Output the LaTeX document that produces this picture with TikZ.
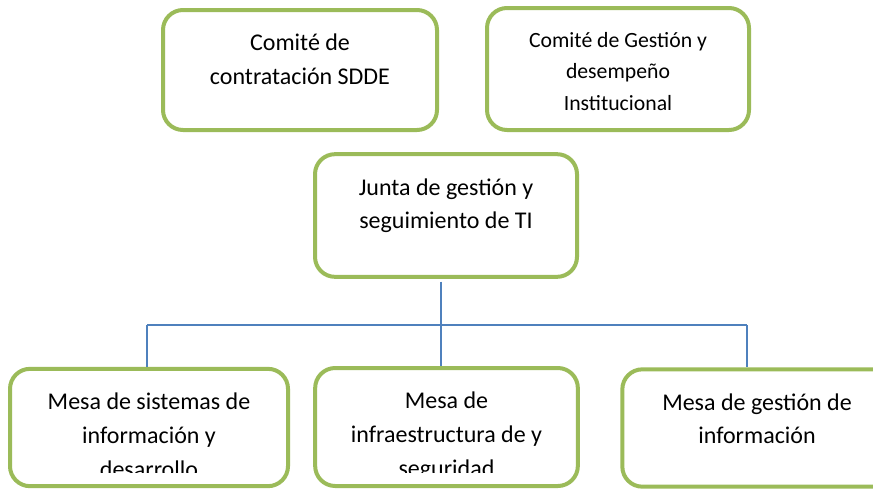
\documentclass[tikz,border=0pt]{standalone}
\usepackage{fontspec}
\setmainfont{Carlito}
\usetikzlibrary{positioning}
\definecolor{boxgreen}{HTML}{9BBB59}
\definecolor{lineblue}{HTML}{4F81BD}
\tikzset{
  VertexStyle/.style={draw=boxgreen, line width=3pt, rounded corners=15pt, rectangle, fill=white},
  TextStyle/.style={align=center, inner sep=0pt, font=\fontsize{18}{25}\selectfont},
  EdgeStyle/.style={draw=lineblue, line width=1.5pt}
}
\begin{document}
\begin{tikzpicture}[x=0.75pt, y=-0.75pt]
\useasboundingbox (0,0) rectangle (873,489);
\clip (0,0) rectangle (873,489);
\node[VertexStyle, minimum width=205.5pt, minimum height=90pt] (cc) at (300,70) {};
\node[VertexStyle, minimum width=196.5pt, minimum height=91.5pt] (cg) at (618,69) {};
\node[VertexStyle, minimum width=196.5pt, minimum height=92pt] (junta) at (446,215.5) {};
\node[VertexStyle, minimum width=208.5pt, minimum height=88pt] (msi) at (149,427.5) {};
\node[VertexStyle, minimum width=197pt, minimum height=88.5pt] (mis) at (446.5,427) {};
\node[VertexStyle, minimum width=202pt, minimum height=88pt] (mgi) at (757,428) {};
\node[TextStyle, below=19.5pt of cc.north] (tcc) {Comité de\\contratación SDDE};
\node[TextStyle, font=\fontsize{16.3}{23.6}\selectfont, below=19.5pt of cg.north] (tcg) {Comité de Gestión y\\desempeño\\Institucional};
\node[TextStyle, below=19.5pt of junta.north] (tjunta) {Junta de gestión y\\seguimiento de TI};
\node[TextStyle, below=19.5pt of mgi.north] (tmgi) {Mesa de gestión de\\información};
\begin{scope}
\clip (0,0) rectangle (873,472);
\node[TextStyle, font=\fontsize{18}{25.5}\selectfont, below=19.5pt of msi.north] (tmsi) {Mesa de sistemas de\\información y\\desarrollo};
\node[TextStyle, font=\fontsize{18}{25.5}\selectfont, below=19.5pt of mis.north] (tmis) {Mesa de\\infraestructura de y\\seguridad};
\end{scope}
\coordinate (hub) at (441,325);
\coordinate (hl) at (147,325);
\coordinate (hr) at (747,325);
\draw[EdgeStyle, shorten <=2pt] (hub |- junta.south) -- (hub);
\draw[EdgeStyle] (hl) -- (hr);
\draw[EdgeStyle] (hl) -- (hl |- msi.north);
\draw[EdgeStyle] (hub) -- (hub |- mis.north);
\draw[EdgeStyle] (hr) -- (hr |- mgi.north);
\end{tikzpicture}
\end{document}
